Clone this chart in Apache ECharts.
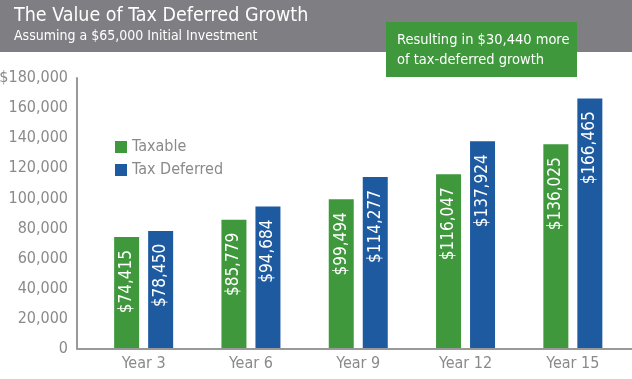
<!DOCTYPE html>
<html>
<head>
<meta charset="utf-8">
<script src="https://cdn.jsdelivr.net/npm/echarts@6/dist/echarts.min.js"></script>
<style>
html,body{margin:0;padding:0;background:#fff;}
#c{width:632px;height:379px;}
</style>
</head>
<body>
<div id="c"></div>
<script>
const categories = ['Year 3', 'Year 6', 'Year 9', 'Year 12', 'Year 15'];
const taxable = [74415, 85779, 99494, 116047, 136025];
const taxDeferred = [78450, 94684, 114277, 137924, 166465];
const yTicks = [0, 20000, 40000, 60000, 80000, 100000, 120000, 140000, 160000, 180000];
const seriesNames = ['Taxable', 'Tax Deferred'];

const FONT = '"DejaVu Sans Condensed", "Liberation Sans Narrow", sans-serif';
const GREEN = '#3f983c';
const BLUE = '#1d5aa0';
const GRAY_TEXT = '#8a8a8a';

const fmt = n => n.toLocaleString('en-US');

const chart = echarts.init(document.getElementById('c'), null, {renderer: 'canvas'});

const barLabel = {
  show: true,
  position: 'insideTop',
  distance: 13,
  rotate: 90,
  align: 'right',
  verticalAlign: 'middle',
  color: '#ffffff',
  fontFamily: FONT,
  fontSize: 17,
  formatter: p => '$' + fmt(p.value)
};

chart.setOption({
  animation: false,
  textStyle: {fontFamily: FONT},
  grid: {left: 90, right: 5.5, top: 78, bottom: 30, containLabel: false, outerBoundsMode: 'none'},
  graphic: [
    {type: 'rect', left: 0, top: 0, shape: {width: 632, height: 52}, style: {fill: '#7f7e83'}, z: 0},
    {type: 'text', left: 14, top: 6, style: {text: 'The Value of Tax Deferred Growth', fill: '#ffffff', font: '19.5px ' + FONT}, z: 2},
    {type: 'text', left: 14, top: 29, style: {text: 'Assuming a $65,000 Initial Investment', fill: '#ffffff', font: '14px ' + FONT}, z: 2},
    {type: 'rect', left: 386, top: 22, shape: {width: 191, height: 55}, style: {fill: '#3f983c'}, z: 3},
    {type: 'text', left: 397, top: 30, style: {text: 'Resulting in $30,440 more\nof tax-deferred growth', fill: '#ffffff', font: '14.5px ' + FONT, lineHeight: 20}, z: 4},
    {type: 'line', shape: {x1: 77, y1: 349, x2: 632, y2: 349}, style: {stroke: '#999999', lineWidth: 2}, z: 5}
  ],
  legend: {
    orient: 'vertical',
    left: 115,
    top: 139,
    padding: 0,
    itemWidth: 12,
    itemHeight: 12,
    itemGap: 7,
    icon: 'rect',
    textStyle: {color: GRAY_TEXT, fontSize: 16, fontFamily: FONT},
    data: seriesNames
  },
  xAxis: {
    type: 'category',
    data: categories,
    axisLine: {show: false},
    axisTick: {show: false},
    axisLabel: {color: GRAY_TEXT, fontSize: 16, fontFamily: FONT, margin: 7}
  },
  yAxis: {
    type: 'value',
    min: 0,
    max: 180000,
    interval: 20000,
    offset: 13,
    splitLine: {show: false},
    axisTick: {show: false},
    axisLine: {show: true, lineStyle: {color: '#999999', width: 2}},
    axisLabel: {
      color: GRAY_TEXT, fontSize: 16, fontFamily: FONT, margin: 9,
      formatter: v => {
        const i = yTicks.indexOf(v);
        if (i < 0) return '';
        return (v === 180000 ? '$' : '') + fmt(v);
      }
    }
  },
  series: [
    {name: seriesNames[0], type: 'bar', data: taxable, barWidth: 25, barGap: '36%', itemStyle: {color: GREEN}, label: barLabel},
    {name: seriesNames[1], type: 'bar', data: taxDeferred, barWidth: 25, barGap: '36%', itemStyle: {color: BLUE}, label: barLabel}
  ]
});
</script>
</body>
</html>
